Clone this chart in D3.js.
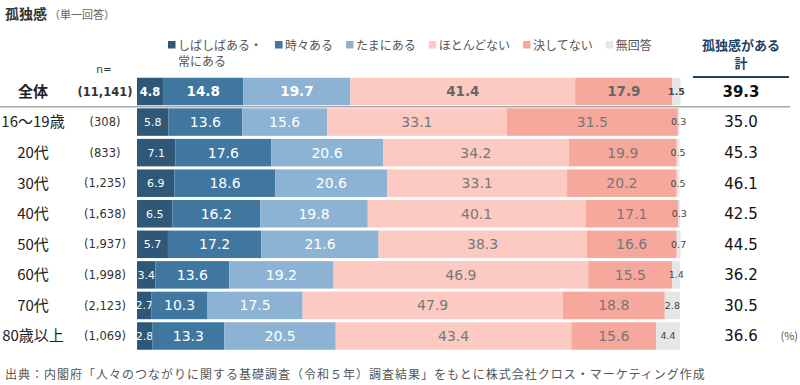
<!DOCTYPE html>
<html>
<head>
<meta charset="utf-8">
<script src="https://cdn.jsdelivr.net/npm/d3@7"></script>
<style>
  body { margin: 0; background: #fff; }
  svg { display: block; }
</style>
</head>
<body>
<div id="chart"></div>
<script>
// rows and sample sizes
const rows = ["全体", "16〜19歳", "20代", "30代", "40代", "50代", "60代", "70代", "80歳以上"];
const nLabels = ["(11,141)", "(308)", "(833)", "(1,235)", "(1,638)", "(1,937)", "(1,998)", "(2,123)", "(1,069)"];

// answer shares (%)
const often        = [4.8, 5.8, 7.1, 6.9, 6.5, 5.7, 3.4, 2.7, 2.8];
const sometimes    = [14.8, 13.6, 17.6, 18.6, 16.2, 17.2, 13.6, 10.3, 13.3];
const occasionally = [19.7, 15.6, 20.6, 20.6, 19.8, 21.6, 19.2, 17.5, 20.5];
const rarely       = [41.4, 33.1, 34.2, 33.1, 40.1, 38.3, 46.9, 47.9, 43.4];
const never        = [17.9, 31.5, 19.9, 20.2, 17.1, 16.6, 15.5, 18.8, 15.6];
const noAnswer     = [1.5, 0.3, 0.5, 0.5, 0.3, 0.7, 1.4, 2.8, 4.4];

// 孤独感がある 計
const lonelyTotal = [39.3, 35.0, 45.3, 46.1, 42.5, 44.5, 36.2, 30.5, 36.6];

const seriesNames = [["しばしばある・", "常にある"], ["時々ある"], ["たまにある"], ["ほとんどない"], ["決してない"], ["無回答"]];
const seriesValues = [often, sometimes, occasionally, rarely, never, noAnswer];
const colors = ["#2f5878", "#3f77a0", "#8cb3d3", "#fdcac3", "#f7a89d", "#e6e6e6"];

const width = 800, height = 385;
const jp = "'Noto Sans CJK JP', 'Noto Sans', sans-serif";
const num = "'DejaVu Sans', Verdana, sans-serif";

const svg = d3.select("#chart").append("svg")
  .attr("width", width)
  .attr("height", height);

const x = d3.scaleLinear().domain([0, 100]).range([137, 680]);
const y = d3.scaleBand().domain(rows).range([77.75, 349.75]).paddingInner(0.1);

// title
const title = svg.append("text")
  .attr("x", 5).attr("y", 19)
  .style("font-family", jp);
title.append("tspan").text("孤独感")
  .style("font-size", "14px").style("font-weight", "bold").attr("fill", "#333");
title.append("tspan").text("（単一回答）")
  .attr("dx", 2)
  .style("font-size", "11px").attr("fill", "#666");

// legend
let lx = 168;
seriesNames.forEach((lines, i) => {
  const g = svg.append("g").attr("transform", `translate(${lx},0)`);
  g.append("rect")
    .attr("x", 0).attr("y", 41)
    .attr("width", 7.5).attr("height", 7.5)
    .attr("fill", colors[i]);
  let w = 0;
  lines.forEach((line, j) => {
    const t = g.append("text")
      .attr("x", 10).attr("y", 49.5 + j * 16)
      .style("font-family", jp)
      .style("font-size", "12px")
      .attr("fill", "#555")
      .text(line);
    w = Math.max(w, t.node().getComputedTextLength());
  });
  lx += 10 + w + 13;
});

// right column header
svg.append("text")
  .attr("x", 741).attr("y", 50)
  .attr("text-anchor", "middle")
  .style("font-family", jp).style("font-size", "13px").style("font-weight", "bold")
  .attr("fill", "#1f3f63")
  .text("孤独感がある");
svg.append("text")
  .attr("x", 741).attr("y", 68)
  .attr("text-anchor", "middle")
  .style("font-family", jp).style("font-size", "13px").style("font-weight", "bold")
  .attr("fill", "#1f3f63")
  .text("計");
svg.append("line")
  .attr("x1", 693).attr("x2", 789)
  .attr("y1", 77).attr("y2", 77)
  .attr("stroke", "#1f3f63").attr("stroke-width", 2);

svg.append("text")
  .attr("x", 104).attr("y", 73)
  .attr("text-anchor", "middle")
  .style("font-family", num).style("font-size", "10.5px")
  .attr("fill", "#333")
  .text("n=");

// bars
rows.forEach((row, r) => {
  const isTotal = r === 0;
  const cy = y(row) + y.bandwidth() / 2;
  let acc = 0;
  seriesValues.forEach((vals, s) => {
    const v = vals[r];
    const x0 = x(acc), x1 = x(acc + v);
    svg.append("rect")
      .attr("x", x0).attr("y", y(row))
      .attr("width", x1 - x0).attr("height", y.bandwidth())
      .attr("fill", colors[s]);
    let size = isTotal ? 13.5 : 14;
    let fill = s < 3 ? "#fff" : "#777";
    if (s === 0) size = isTotal ? 11.5 : 11;
    if (s === 5) { size = 9.5; fill = "#444"; }
    if (isTotal && s >= 3 && s < 5) fill = "#666";
    svg.append("text")
      .attr("x", (x0 + x1) / 2).attr("y", cy)
      .attr("dy", "0.36em")
      .attr("text-anchor", "middle")
      .style("font-family", num)
      .style("font-size", size + "px")
      .style("font-weight", isTotal ? "bold" : "normal")
      .attr("fill", fill)
      .text(v.toFixed(1));
    acc += v;
  });

  svg.append("text")
    .attr("x", 33).attr("y", cy)
    .attr("dy", "0.36em")
    .attr("text-anchor", "middle")
    .style("font-family", jp).style("font-size", "15px")
    .style("font-weight", isTotal ? "bold" : "normal")
    .attr("fill", "#222")
    .text(row);

  svg.append("text")
    .attr("x", 105).attr("y", cy)
    .attr("dy", "0.36em")
    .attr("text-anchor", "middle")
    .style("font-family", num).style("font-size", "11.5px")
    .style("font-weight", isTotal ? "bold" : "normal")
    .attr("fill", "#333")
    .text(nLabels[r]);

  svg.append("text")
    .attr("x", 741).attr("y", cy)
    .attr("dy", "0.36em")
    .attr("text-anchor", "middle")
    .style("font-family", num).style("font-size", "15px")
    .style("font-weight", isTotal ? "bold" : "normal")
    .attr("fill", "#111")
    .text(lonelyTotal[r].toFixed(1));
});

// separator under 全体
const sepY = (y(rows[0]) + y.bandwidth() + y(rows[1])) / 2;
svg.append("line")
  .attr("x1", 0).attr("x2", 790)
  .attr("y1", sepY).attr("y2", sepY)
  .attr("stroke", "#a8a8a8").attr("stroke-width", 1.5);

svg.append("text")
  .attr("x", 798).attr("y", y(rows[rows.length - 1]) + y.bandwidth() / 2)
  .attr("dy", "0.36em")
  .attr("text-anchor", "end")
  .style("font-family", jp).style("font-size", "11px")
  .attr("fill", "#555")
  .text("(%)");

// source
svg.append("text")
  .attr("x", 5).attr("y", 379)
  .style("font-family", jp).style("font-size", "12px")
  .style("letter-spacing", "1px")
  .attr("fill", "#555")
  .text("出典：内閣府「人々のつながりに関する基礎調査（令和５年）調査結果」をもとに株式会社クロス・マーケティング作成");
</script>
</body>
</html>
